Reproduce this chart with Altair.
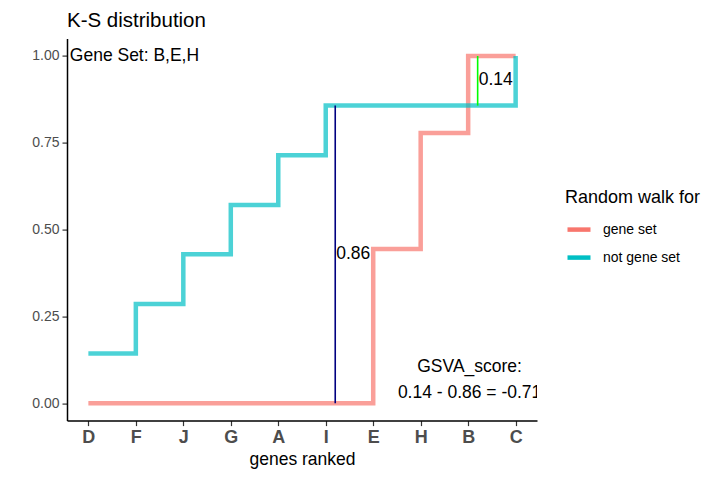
import json
import altair as alt
import pandas as pd

# ---------------- data ----------------
genes = ['D', 'F', 'J', 'G', 'A', 'I', 'E', 'H', 'B', 'C']
rank = [1, 2, 3, 4, 5, 6, 7, 8, 9, 10]
gene_set_walk = [0.0, 0.0, 0.0, 0.0, 0.0, 0.0, 0.444, 0.778, 1.0, 1.0]
not_gene_set_walk = [0.143, 0.286, 0.429, 0.571, 0.714, 0.857, 0.857, 0.857, 0.857, 1.0]
series_names = ['gene set', 'not gene set']
series_colors = ['#F8766D', '#00BFC4']

gap_labels = ['0.86', '0.14']
gap_x = [6.2, 9.2]
gap_lo = [0.0, 0.857]
gap_hi = [0.857, 1.0]
gap_label_y = [0.43, 0.93]
gap_colors = ['#000080', '#00FF00']

gene_set_text = ['Gene Set: B,E,H']
gene_set_text_x = [0.61]
gene_set_text_y = [1.0]

score_text = ['GSVA_score:', '0.14 - 0.86 = -0.71']
score_text_x = [9.03, 9.03]
score_text_y = [0.104, 0.029]

# ---------------- tables ----------------
walk = pd.DataFrame({
    'rank': rank * 2,
    'value': gene_set_walk + not_gene_set_walk,
    'series': [series_names[0]] * len(rank) + [series_names[1]] * len(rank),
})
gaps = pd.DataFrame({'x': gap_x, 'lo': gap_lo, 'hi': gap_hi, 'ly': gap_label_y,
                     'label': gap_labels, 'col': gap_colors})
gs = pd.DataFrame({'x': gene_set_text_x, 'y': gene_set_text_y, 'label': gene_set_text})
sc = pd.DataFrame({'x': score_text_x, 'y': score_text_y, 'label': score_text})

FONT = 'Liberation Sans'
label_expr = json.dumps(genes) + '[datum.value - 1]'

x_scale = alt.Scale(domain=[0.55, 10.45], nice=False, zero=False)
y_scale = alt.Scale(domain=[-0.05, 1.05], nice=False, zero=False)

x_axis = alt.Axis(values=rank, labelExpr=label_expr, title='genes ranked', grid=False,
                  domainColor='black', domainWidth=1.5, tickColor='#333333', tickWidth=1.2,
                  tickSize=5, labelColor='#4D4D4D', labelFont=FONT, labelFontSize=18,
                  labelFontWeight='bold', labelPadding=3, titleFont=FONT, titleFontSize=17.5,
                  titleFontWeight='normal', titleColor='black', titlePadding=4)
y_axis = alt.Axis(values=[0, 0.25, 0.5, 0.75, 1.0], format='.2f', title=None, grid=False,
                  domainColor='black', domainWidth=1.5, tickColor='#333333', tickWidth=1.2,
                  tickSize=5, labelColor='#4D4D4D', labelFont=FONT, labelFontSize=14,
                  labelPadding=3)

lines = alt.Chart(walk).mark_line(interpolate='step-after', strokeWidth=4.5, opacity=0.7,
                                  strokeJoin='miter', strokeCap='butt').encode(
    x=alt.X('rank:Q', scale=x_scale, axis=x_axis),
    y=alt.Y('value:Q', scale=y_scale, axis=y_axis),
    color=alt.Color('series:N', scale=alt.Scale(domain=series_names, range=series_colors),
                    legend=alt.Legend(title='Random walk for', orient='none', legendX=498,
                                      legendY=150, padding=0, symbolType='stroke',
                                      symbolSize=529, symbolStrokeWidth=4.5, symbolOpacity=1,
                                      titleFont=FONT, titleFontSize=18, titleFontWeight='normal',
                                      titleColor='black', titlePadding=9, labelFont=FONT,
                                      labelFontSize=14, labelColor='black', labelOffset=10,
                                      rowPadding=5)),
    detail='series:N',
)

rules = alt.Chart(gaps).mark_rule(strokeWidth=1.6).encode(
    x='x:Q', y='lo:Q', y2='hi:Q', color=alt.Color('col:N', scale=None, legend=None))

gap_text = alt.Chart(gaps).mark_text(align='left', baseline='middle', dx=1, font=FONT,
                                     fontSize=17.5, color='black').encode(
    x='x:Q', y='ly:Q', text='label:N')

gs_text = alt.Chart(gs).mark_text(align='left', baseline='middle', font=FONT, fontSize=17.5,
                                  color='black').encode(x='x:Q', y='y:Q', text='label:N')

sc_text = alt.Chart(sc).mark_text(align='center', baseline='middle', font=FONT, fontSize=17.5,
                                  color='black', clip=True).encode(
    x='x:Q', y='y:Q', text='label:N')

chart = alt.layer(lines, rules, gap_text, gs_text, sc_text).properties(
    width=470, height=382,
    title=alt.TitleParams('K-S distribution', anchor='start', frame='group', font=FONT,
                          fontSize=20.5, fontWeight='normal', color='black', offset=7),
    autosize=alt.AutoSizeParams(type='none'),
    padding={'left': 59, 'top': 30.6, 'right': 170, 'bottom': 52},
).configure(background='white').configure_view(stroke='transparent', strokeWidth=0,
                                               strokeOpacity=0)

chart.save('out.html', embed_options={'renderer': 'svg', 'actions': False})
